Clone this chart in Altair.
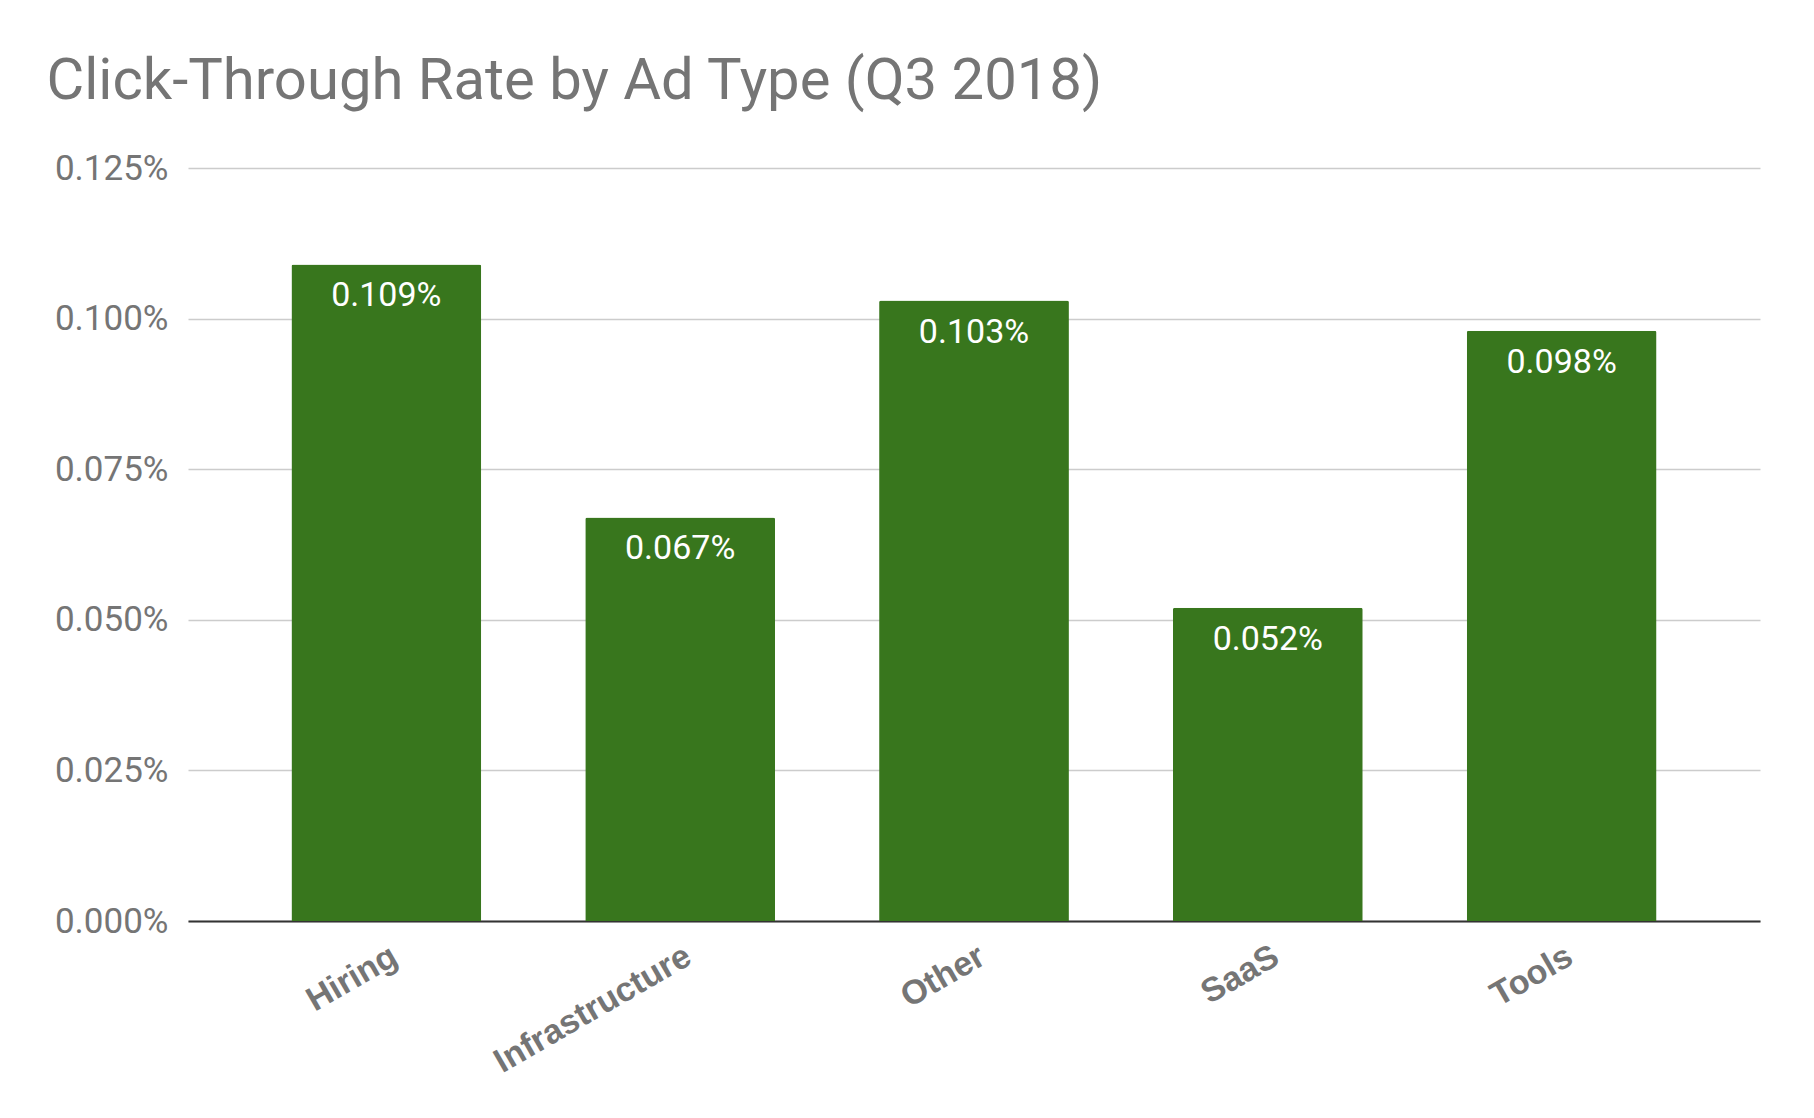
import altair as alt
import pandas as pd

categories = ["Hiring", "Infrastructure", "Other", "SaaS", "Tools"]
values = [0.109, 0.067, 0.103, 0.052, 0.098]
labels = ["0.109%", "0.067%", "0.103%", "0.052%", "0.098%"]
y_ticks = [0.0, 0.025, 0.05, 0.075, 0.1, 0.125]

df = pd.DataFrame({"cat": categories, "v": values, "lab": labels})
FONT = "Roboto"

base = alt.Chart(df).encode(
    x=alt.X("cat:N", sort=categories, title=None,
            scale=alt.Scale(paddingInner=0.354, paddingOuter=0.352),
            axis=alt.Axis(labelAngle=-30, labelFontWeight="bold", labelFontSize=34,
                          labelColor="#757575", labelFont="Arial", ticks=False, labelLimit=0,
                          domainColor="#333333", domainWidth=2, labelPadding=18)),
)

bars = base.mark_bar(color="#38761d", cornerRadiusTopLeft=2, cornerRadiusTopRight=2).encode(
    y=alt.Y("v:Q", title=None,
            scale=alt.Scale(domain=[0, 0.125], nice=False),
            axis=alt.Axis(values=y_ticks, labelExpr="format(datum.value, '.3f') + '%'",
                          labelFontSize=35, labelColor="#757575", labelFont=FONT,
                          ticks=False, domain=False, labelPadding=20,
                          gridColor="#cccccc", gridWidth=1.5))
)

text = base.mark_text(color="white", fontSize=34, font=FONT, baseline="middle", dy=32).encode(
    y=alt.Y("v:Q"), text="lab:N")

chart = (bars + text).properties(
    width=1572, height=753,
    autosize=alt.AutoSizeParams(type="none"),
    padding={"left": 180, "top": 160, "right": 40, "bottom": 180},
    title=alt.TitleParams("Click-Through Rate by Ad Type (Q3 2018)", anchor="start",
                          font=FONT, fontSize=58, fontWeight="normal", color="#757575",
                          dx=-8, offset=40),
).configure_view(stroke=None)

chart.save("out.html", embed_options={"renderer": "svg", "actions": False})
